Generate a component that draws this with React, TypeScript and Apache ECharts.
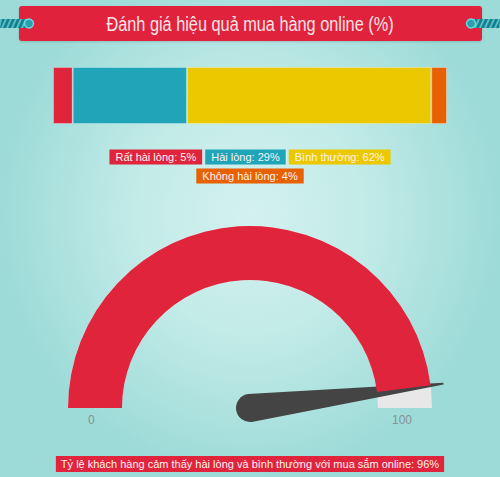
import React, { useEffect, useRef } from "react";
import * as echarts from "echarts";

const titleText = "Đánh giá hiệu quả mua hàng online (%)";
const categories = ["Rất hài lòng", "Hài lòng", "Bình thường", "Không hài lòng"];
const values = [5, 29, 62, 4];
const colors = ["#e0243c", "#1fa5b7", "#ebc800", "#e86100"];
const gaugeValues = [96];
const gaugeRange = [0, 100];
const gaugeCaption = "Tỷ lệ khách hàng cảm thấy hài lòng và bình thường với mua sắm online";

const FONT = "'Liberation Sans', Arial, sans-serif";

function rope(side: "left" | "right") {
  const x0 = side === "left" ? 0 : 468;
  const children: any[] = [
    { type: "rect", z: 20, shape: { x: x0, y: 19, width: 32, height: 9 }, style: { fill: "#17808f" } },
  ];
  for (let k = 0; k < 8; k++) {
    const sx = x0 - 4 + k * 5;
    const pts = [[sx, 28], [sx + 2, 28], [sx + 6, 19], [sx + 4, 19]].map(([px, py]) => [
      Math.max(x0, Math.min(x0 + 32, px)),
      py,
    ]);
    children.push({
      type: "polygon",
      z: 21,
      shape: { points: pts },
      style: { fill: "#58bfca" },
    });
  }
  const cx = side === "left" ? 29 : 471;
  children.push({
    type: "circle",
    z: 22,
    shape: { cx, cy: 23.5, r: 4.5 },
    style: { fill: "#2a9fae", stroke: "#6fd6dc", lineWidth: 1.5 },
  });
  return { type: "group", children };
}

export default function App() {
  const ref = useRef<HTMLDivElement>(null);
  useEffect(() => {
    if (!ref.current) return;
    const chart = echarts.init(ref.current, undefined, { renderer: "svg" });

    const rich: any = {};
    categories.forEach((c, i) => {
      rich["r" + i] = {
        backgroundColor: colors[i],
        color: "#fdf2f2",
        padding: [2, 6, 2, 6],
        fontSize: 11,
        lineHeight: 12,
        fontWeight: "normal",
        fontFamily: FONT,
      };
    });
    const item = (i: number) => `{r${i}|${categories[i]}: ${values[i]}%}`;
    const row1 = [0, 1, 2].map(item).join(" ");
    const row2 = item(3);

    const gaugeBase = {
      type: "gauge",
      radius: 182,
      startAngle: 180,
      endAngle: 0,
      min: gaugeRange[0],
      max: gaugeRange[1],
      splitNumber: 1,
      splitLine: { show: false, length: 0, distance: 0 },
      axisTick: { show: false },
      anchor: { show: false },
      title: { show: false },
      detail: { show: false },
      data: [{ value: gaugeValues[0] }],
    };

    const option: any = {
      animation: false,
      backgroundColor: "transparent",
      textStyle: { fontFamily: FONT },
      title: [
        { text: row1, left: "center", top: 151, padding: 0, textStyle: { fontSize: 11, fontWeight: "normal", fontFamily: FONT, rich } },
        { text: row2, left: "center", top: 170, padding: 0, textStyle: { fontSize: 11, fontWeight: "normal", fontFamily: FONT, rich } },
        {
          text: `${gaugeCaption}: ${gaugeValues[0]}%`,
          left: "center",
          top: 456,
          padding: [2, 5, 2, 5],
          backgroundColor: "#e0243c",
          textStyle: { color: "#fdf2f2", fontSize: 11, lineHeight: 12, fontWeight: "normal", fontFamily: FONT },
        },
      ],
      grid: { left: 53, right: 53, top: 67, height: 57 },
      xAxis: { type: "value", min: 0, max: 100, show: false },
      yAxis: { type: "category", data: ["all"], show: false },
      graphic: [
        {
          type: "rect",
          z: 10,
          shape: { x: 19, y: 6, width: 463, height: 35, r: 3 },
          style: { fill: "#e0243c", shadowColor: "rgba(0,0,0,0.15)", shadowBlur: 2, shadowOffsetY: 1 },
        },
        {
          type: "text",
          z: 15,
          x: 250,
          y: 24,
          scaleX: 0.815,
          style: {
            text: titleText,
            fill: "#fbe4e6",
            fontSize: 20,
            fontFamily: FONT,
            textAlign: "center",
            textVerticalAlign: "middle",
          },
        },
        rope("left"),
        rope("right"),
      ],
      series: [
        ...categories.map((c, i) => ({
          type: "bar",
          name: c,
          stack: "total",
          data: [values[i]],
          barWidth: 57,
          itemStyle: { color: colors[i], borderColor: "rgba(255,255,255,0.3)", borderWidth: 1 },
        })),
        {
          ...gaugeBase,
          center: [250, 408],
          axisLine: { lineStyle: { width: 54, color: [[1, "#e8e8e8"]] } },
          progress: { show: true, width: 54, itemStyle: { color: "#e0243c" } },
          axisLabel: { show: false },
          pointer: {
            icon: "path://M-14 0 L-1 -195 L1 -195 L14 0 A14 14 0 0 1 -14 0 Z",
            length: 209,
            width: 28,
            offsetCenter: [0, 14],
            itemStyle: { color: "#444444" },
          },
        },
        {
          ...gaugeBase,
          center: [250, 420],
          axisLine: { show: false, lineStyle: { width: 0 } },
          progress: { show: false },
          pointer: { show: false },
          axisLabel: {
            distance: 20,
            color: "#869292",
            fontSize: 12,
            fontFamily: FONT,
          },
        },
      ],
    };
    chart.setOption(option);
    return () => chart.dispose();
  }, []);

  return (
    <div
      style={{
        position: "absolute",
        left: 0,
        top: 0,
        width: 500,
        height: 477,
        background: "radial-gradient(ellipse farthest-side at 50% 45%, #d3f1ef 0%, #c3ebe8 45%, #9ddbd8 100%)",
      }}
    >
      <div ref={ref} style={{ width: 500, height: 477 }} />
    </div>
  );
}
